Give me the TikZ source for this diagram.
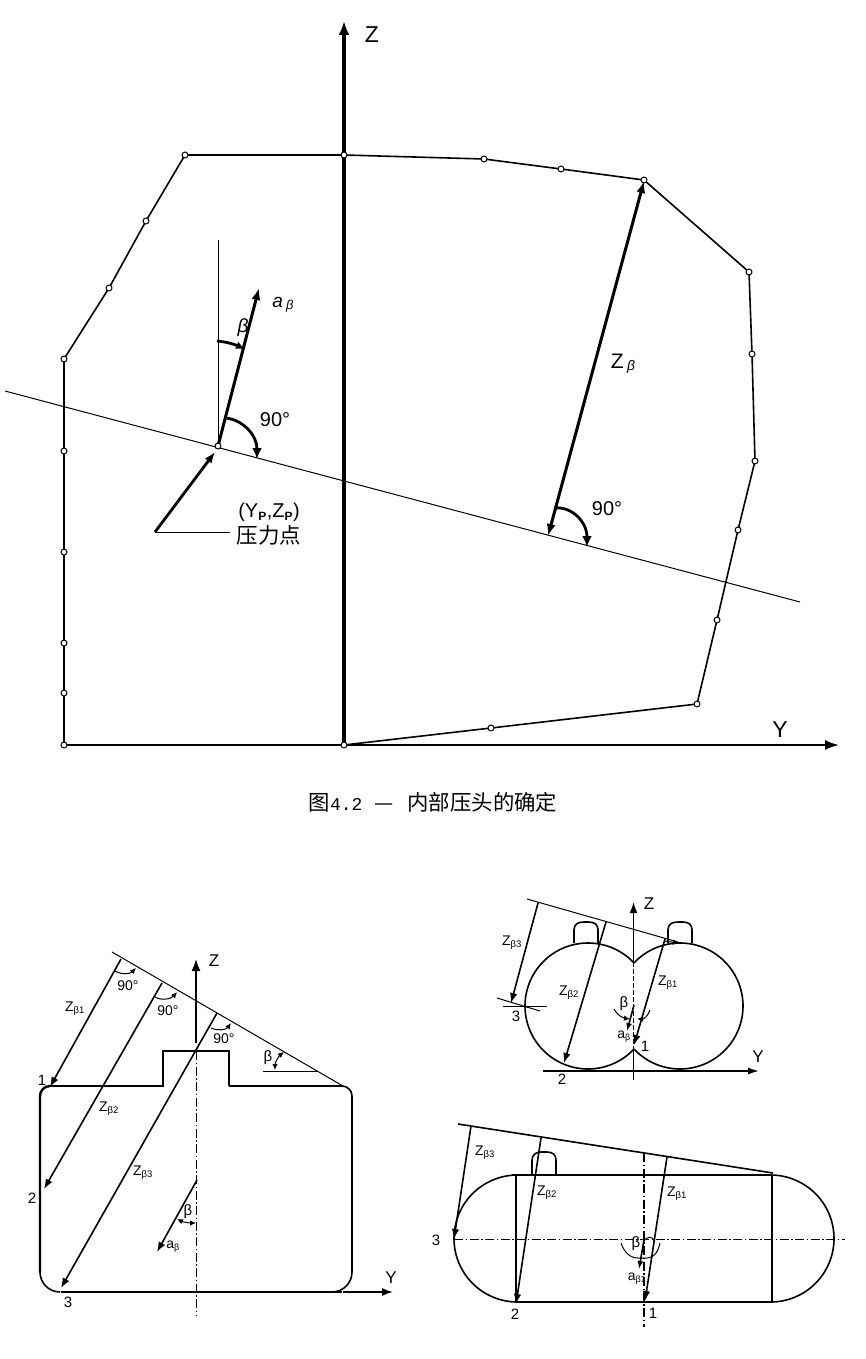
\documentclass[tikz,border=0pt]{standalone}
\usepackage{fontspec}
\setmainfont{Liberation Sans}
\newfontfamily\cjk{Noto Sans CJK SC}
\newfontfamily\capmono{Liberation Mono}
\usetikzlibrary{arrows.meta}
\tikzset{
  thinln/.style={line width=1pt,black},
  medln/.style={line width=1.6pt,black},
  thkln/.style={line width=2.4pt,black},
  axisln/.style={line width=3.4pt,black},
  tipB/.style={-{Latex[length=10pt,width=7.5pt]}},
  tipS/.style={-{Latex[length=6pt,width=5.5pt]}},
  dblS/.style={{Latex[length=6pt,width=5.5pt]}-{Latex[length=6pt,width=5.5pt]}},
  dashdotln/.style={line width=1pt,dash pattern=on 9pt off 2.5pt on 1.5pt off 2.5pt},
  pt/.style={circle,draw=black,fill=white,line width=1pt,inner sep=0pt,minimum size=6pt},
  big/.style={inner sep=0pt,font=\fontsize{23}{25}\selectfont},
  mid/.style={inner sep=0pt,font=\fontsize{20}{22}\selectfont},
  sml/.style={inner sep=0pt,font=\fontsize{14}{16}\selectfont},
  ax/.style={inner sep=0pt,font=\fontsize{17}{18}\selectfont},
  num/.style={inner sep=0pt,font=\fontsize{15}{16}\selectfont},
}
\newcommand{\Zb}[1]{Z\textsubscript{\fontsize{9.5}{10}\selectfont β#1}}
\begin{document}
\begin{tikzpicture}[x=1pt,y=-1pt]
\useasboundingbox[fill=white] (0,0) rectangle (866,1359);

% ---- Main figure ----
\coordinate (O) at (344,745);
\draw[axisln,-{Latex[length=14pt,width=11pt]}] (O) -- (344,21);
\draw[thkln,line width=2pt,-{Latex[length=14pt,width=10pt]}] (O) -- (839,745);
\node[big] (mz) at (372,35) {Z};
\node[big] (my) at (780,730) {Y};

\foreach \n/\x/\y in {a/64/745,b/64/693,c/64/643,d/64/552,e/64/451,f/64/359,g/109/288,h/146/221,i/185/155,j/344/155,k/484/159,l/561/169,m/644/180,n/749/272,o/752/354,p/755/461,q/738/530,r/717/620,s/697/704,t/491/728}
  \coordinate (\n) at (\x,\y);
\draw[medln] (O)--(a)--(b)--(c)--(d)--(e)--(f)--(g)--(h)--(i)--(j)--(k)--(l)--(m)--(n)--(o)--(p)--(q)--(r)--(s)--(t)--(O);
\foreach \n in {a,b,c,d,e,f,g,h,i,j,k,l,m,n,o,p,q,r,s,t} \node[pt] at (\n) {};
\node[pt] at (O) {};

\draw[thinln] (5,391) -- (800,602);
\coordinate (P) at (218,446);
\coordinate (S) at (155,532);
\draw[thinln] (218,240) -- (P);
\draw[line width=3pt,-{Latex[length=12pt,width=9pt]}] (P) -- (259,288);
\draw[thkln,line width=2.8pt,-{Latex[length=11pt,width=8.5pt]}] (S) -- (215,452);
\draw[thinln] (S) -- (230,532);
\node[pt] at (P) {};
\draw[thkln,line width=2.8pt,-{Latex[length=9pt,width=8pt]}] (217,341) .. controls (228,342) and (236,345) .. (245,349);
\draw[thkln,line width=2.8pt,-{Latex[length=11pt,width=10pt]}] (226,418) .. controls (243,420) and (257,435) .. (257,459);
\node[mid] (n90a) at (275,420) {90°};
\node[inner sep=0pt,font=\itshape\fontsize{19}{20}\selectfont] (nab) at (283,305) {a\,\raisebox{-2pt}{\fontsize{13}{13}\selectfont β}};
\node[inner sep=0pt,font=\itshape\fontsize{19}{20}\selectfont] (nb) at (243,328) {β};
\node[mid] (np) at (269,512) {(Y\textsubscript{\fontsize{12}{12}\selectfont\bfseries P},Z\textsubscript{\fontsize{12}{12}\selectfont\bfseries P})};
\node[inner sep=0pt,font=\cjk\fontsize{21.5}{23}\selectfont] (npl) at (269,535) {压力点};

\draw[line width=3pt,{Latex[length=12pt,width=9pt]}-{Latex[length=12pt,width=9pt]}] (644,181) -- (548,536);
\node[inner sep=0pt,font=\fontsize{21}{22}\selectfont] (nzb) at (623,364) {Z\,\raisebox{-2pt}{\itshape\fontsize{14}{14}\selectfont β}};
\draw[thkln,line width=2.8pt,-{Latex[length=11pt,width=10pt]}] (554,508) .. controls (572,506) and (587,522) .. (587,547);
\node[mid] (n90b) at (607,509) {90°};

\node[inner sep=0pt,font=\cjk\fontsize{21.4}{23}\selectfont] (cap) at (433,802) {图{\capmono\fontsize{18}{20}\selectfont 4.2}\hspace{12pt}—\hspace{14pt}内部压头的确定};

% ---- Lower left ----
\draw[thkln] (50,1086) -- (163,1086) -- (163,1051) -- (229,1051) -- (229,1086);
\draw[medln] (229,1086) -- (342,1086) arc (-90:0:10) -- (352,1272) arc (0:90:20) -- (61,1292);
\draw[thkln,line width=2pt] (342,1292) -- (61,1292);
\draw[thkln] (50,1086) arc (-90:-180:10) -- (40,1272);
\draw[medln] (40,1272) arc (180:90:20);
\draw[thinln] (112,952) -- (343,1086);
\draw[medln,-{Latex[length=12pt,width=9pt]}] (196,1043) -- (196,959);
\draw[dashdotln] (196,1051) -- (196,1315);
\draw[medln,-{Latex[length=11pt,width=8pt]}] (343,1292) -- (393,1292);
\draw[medln,tipB] (121,959) -- (50,1087);
\draw[medln,tipB] (162,983) -- (44,1189);
\draw[medln,tipB] (217,1013) -- (61,1288);
\draw[medln,tipB] (197,1180) -- (157,1252);
\draw[thinln,dblS] (177,1219) .. controls (183,1222) and (190,1223) .. (196,1223);
\draw[thinln,tipS] (115,971) .. controls (122,975) and (130,974) .. (136,968);
\draw[thinln,tipS] (155,997) .. controls (162,1001) and (171,999) .. (177,992);
\draw[thinln,tipS] (211,1028) .. controls (218,1031) and (226,1030) .. (231,1023);
\draw[thinln,dblS] (275,1070) .. controls (275,1062) and (279,1056) .. (284,1052);
\draw[thinln] (263,1071) -- (317,1071);
\node[sml] (l90a) at (128,986) {90°};
\node[sml] (l90b) at (168,1011) {90°};
\node[sml] (l90c) at (224,1039) {90°};
\node[num] (lb1) at (268,1058) {β};
\node[ax] (lz) at (214,961) {Z};
\node[ax] (ly) at (391,1278) {Y};
\node[num] (l1) at (42,1080) {1};
\node[num] (l2) at (32,1198) {2};
\node[num] (l3) at (68,1302) {3};
\node[sml] (lz1) at (75,1009) {\Zb{1}};
\node[sml] (lz2) at (109,1109) {\Zb{2}};
\node[sml] (lz3) at (143,1173) {\Zb{3}};
\node[sml] (la) at (173,1247) {a\textsubscript{\fontsize{9}{10}\selectfont β}};
\node[num] (lb2) at (188,1212) {β};

% ---- Upper right ----
\draw[medln] (588,1006) ++(-43.1:63) arc (-43.1:-316.9:63);
\draw[medln] (680,1006) ++(-136.9:63) arc (-136.9:136.9:63);
\draw[medln] (574,943) -- (574,930) .. controls (574,924) and (578,922) .. (584,922) -- (589,922) .. controls (595,922) and (598,925) .. (598,930) -- (598,943);
\draw[medln] (668,943) -- (668,930) .. controls (668,924) and (672,922) .. (678,922) -- (683,922) .. controls (689,922) and (692,925) .. (692,930) -- (692,943);
\draw[medln,-{Latex[length=11pt,width=8pt]}] (633.5,962) -- (633.5,902);
\draw[thinln,dash pattern=on 5pt off 2pt] (633.5,962) -- (633.5,1050);
\draw[thinln] (633.5,1050) -- (633.5,1080);
\draw[medln,-{Latex[length=11pt,width=7pt]}] (543,1071) -- (759,1071);
\draw[thinln] (527,899) -- (678,942);
\draw[medln,tipB] (538,903) -- (511,1003);
\draw[medln,tipB] (606,922) -- (564,1063);
\draw[medln,tipB] (665,939) -- (634,1045);
\draw[medln,-{Latex[length=8pt,width=6pt]}] (634,1005) -- (627,1031);
\draw[thinln] (497,998) -- (540,1011);
\draw[thinln] (503,1006) -- (547,1006);
\draw[thinln,tipS] (614,1009) .. controls (617,1015) and (623,1018) .. (630,1019);
\draw[thinln,tipS] (650,1010) .. controls (648,1016) and (644,1019) .. (637,1019);
\draw[thinln,tipS] (664,941) -- (679,943);
\node[sml] (rz3) at (512,943) {\Zb{3}};
\node[sml] (rz2) at (569,993) {\Zb{2}};
\node[sml] (rz1) at (668,983) {\Zb{1}};
\node[num] (rb) at (624,1004) {β};
\node[sml] (ra) at (624,1037) {a\textsubscript{\fontsize{9}{10}\selectfont β}};
\node[num] (r1) at (645,1046) {1};
\node[num] (r2) at (562,1079) {2};
\node[num] (r3) at (516,1016) {3};
\node[ax] (rZ) at (649,904) {Z};
\node[ax] (rY) at (758,1057) {Y};

% ---- Lower right ----
\draw[thkln] (512,1175) -- (772,1175);
\draw[thkln] (516,1302) -- (772,1302);
\draw[thkln] (516,1175) -- (516,1302);
\draw[thkln] (772,1175) -- (772,1302);
\draw[medln] (517.5,1175) arc (-90:-270:63.5);
\draw[medln] (770.5,1175) arc (-90:90:63.5);
\draw[medln] (532,1175) -- (532,1160) .. controls (532,1155) and (536,1152) .. (541,1152) -- (547,1152) .. controls (553,1152) and (556,1155) .. (556,1160) -- (556,1175);
\draw[dashdotln] (454,1239) -- (845,1239);
\draw[dashdotln,line width=1.6pt] (644,1153) -- (644,1327);
\draw[medln] (458,1124) -- (773,1173);
\draw[medln,tipB] (471,1126) -- (454,1239);
\draw[medln,tipB] (541,1138) -- (516,1304);
\draw[medln,tipB] (667,1157) -- (645,1301);
\draw[medln,-{Latex[length=8pt,width=6pt]}] (644,1240) -- (639,1269);
\draw[thinln] (621,1243) .. controls (624,1252) and (630,1258) .. (638,1258) -- (647,1258) .. controls (654,1258) and (658,1252) .. (660,1243);
\draw[thinln] (644,1241) .. controls (647,1236) and (653,1236) .. (654,1241);
\node[sml] (bz3) at (485,1153) {\Zb{3}};
\node[sml] (bz2) at (547,1193) {\Zb{2}};
\node[sml] (bz1) at (677,1194) {\Zb{1}};
\node[num] (bb) at (636,1244) {β};
\node[sml] (ba) at (637,1279) {a\textsubscript{\fontsize{9}{10}\selectfont β1}};
\node[num] (b3) at (436,1240) {3};
\node[num] (b2) at (515,1314) {2};
\node[num] (b1) at (653,1313) {1};
\end{tikzpicture}
\end{document}
